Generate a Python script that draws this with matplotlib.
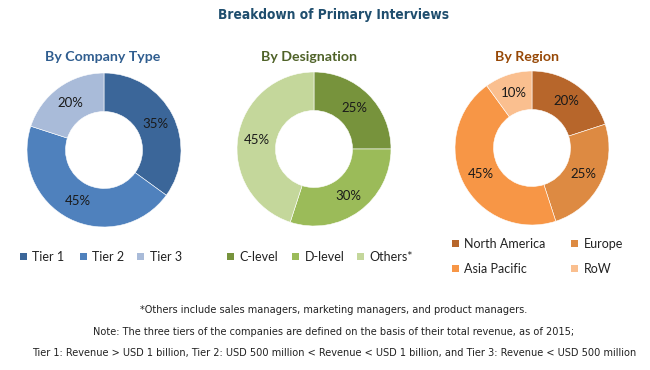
import matplotlib.pyplot as plt
from matplotlib.patches import Patch
from matplotlib import font_manager

# data
company_labels = ["Tier 1", "Tier 2", "Tier 3"]
company_values = [35, 45, 20]
designation_labels = ["C-level", "D-level", "Others*"]
designation_values = [25, 30, 45]
region_labels = ["North America", "Europe", "Asia Pacific", "RoW"]
region_values = [20, 25, 45, 10]

company_colors = ["#3b6699", "#4f81bd", "#a9bbd9"]
designation_colors = ["#77933c", "#9bbb59", "#c4d79b"]
region_colors = ["#b7662b", "#dd8a42", "#f79646", "#fabf8f"]

installed = {f.name for f in font_manager.fontManager.ttflist}
BODY = "Lato" if "Lato" in installed else "DejaVu Sans"

W, H = 650, 370
fig = plt.figure(figsize=(6.5, 3.7), dpi=100, facecolor="white")


def fy(y):
    return 1 - y / H


def donut(cx, cy, values, colors):
    r = 77
    ax = fig.add_axes([(cx - r) / W, fy(cy + r), 2 * r / W, 2 * r / H])
    ax.pie(values, colors=colors, startangle=90, counterclock=False, radius=1,
           autopct=lambda p: f"{p:.0f}%", pctdistance=0.75,
           wedgeprops=dict(width=0.5, edgecolor="white", linewidth=0.4),
           textprops=dict(fontsize=9.5, color="#1a1a1a", family=BODY))
    ax.set_xlim(-1, 1)
    ax.set_ylim(-1, 1)
    ax.set_aspect("equal")
    ax.axis("off")


donut(104, 150, company_values, company_colors)
donut(314, 149, designation_values, designation_colors)
donut(532, 148, region_values, region_colors)

fig.text(334 / W, fy(15), "Breakdown of Primary Interviews", ha="center", va="center",
         fontsize=9.8, fontweight="bold", color="#1f4e6e", fontstretch="condensed")

subtitles = [("By Company Type", 103, "#2f5d8f"), ("By Designation", 309, "#4f6228"),
             ("By Region", 527, "#974806")]
for t, x, c in subtitles:
    fig.text(x / W, fy(57), t, ha="center", va="center", fontsize=10.2,
             fontweight="bold", color=c, family=BODY)


def legend_item(label, color, x, y):
    fig.legend([Patch(facecolor=color, edgecolor="none")], [label], loc="center left",
               bbox_to_anchor=(x / W, fy(y)), frameon=False,
               prop=dict(family=BODY, size=9), handlelength=0.55, handleheight=0.55,
               handletextpad=0.45, borderaxespad=0, borderpad=0, labelcolor="#222222")


for label, color, x in zip(company_labels, company_colors, [20, 80, 137]):
    legend_item(label, color, x, 257)
for label, color, x in zip(designation_labels, designation_colors, [227, 292, 357]):
    legend_item(label, color, x, 257)
for label, color, (x, y) in zip(region_labels, region_colors,
                                [(452, 244), (571, 244), (452, 269), (571, 269)]):
    legend_item(label, color, x, y)

notes = [
    "*Others include sales managers, marketing managers, and product managers.",
    "Note: The three tiers of the companies are defined on the basis of their total revenue, as of 2015;",
    "Tier 1: Revenue > USD 1 billion, Tier 2: USD 500 million < Revenue < USD 1 billion, and Tier 3: Revenue < USD 500 million",
]
for yy, t in zip([310, 332, 353], notes):
    fig.text(334 / W, fy(yy), t, ha="center", va="center", fontsize=7.8,
             color="#222222", fontstretch="condensed")

fig.savefig("out.png", dpi=100, facecolor="white")
